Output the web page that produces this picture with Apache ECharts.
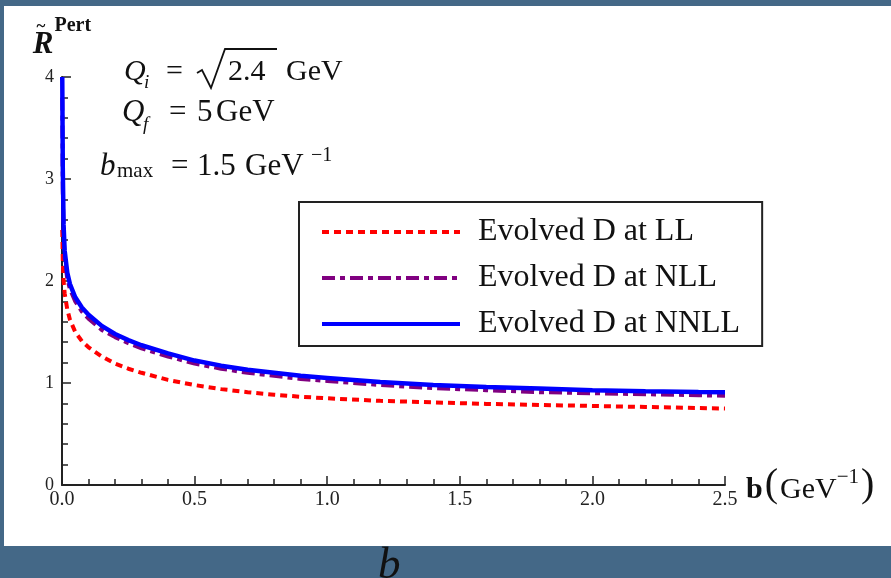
<!DOCTYPE html>
<html>
<head>
<meta charset="utf-8">
<script src="https://cdn.jsdelivr.net/npm/echarts@6/dist/echarts.min.js"></script>
<style>
  html, body { margin: 0; padding: 0; background: #446887; }
  #chart { width: 891px; height: 578px; }
</style>
</head>
<body>
<div id="chart"></div>
<script>
// Impact parameter b in GeV^-1
const bValues = [0.001, 0.003, 0.006, 0.01, 0.02, 0.03, 0.05, 0.075, 0.1, 0.15, 0.2, 0.25, 0.3,
  0.4, 0.5, 0.6, 0.7, 0.8, 0.9, 1.0, 1.2, 1.4, 1.6, 1.8, 2.0, 2.2, 2.4, 2.5];

// Perturbative ratio for each order of the evolved D
const evolvedLL = [2.5, 2.2, 2.0, 1.88, 1.72, 1.62, 1.50, 1.41, 1.35, 1.26, 1.19, 1.14, 1.10,
  1.03, 0.98, 0.94, 0.91, 0.885, 0.865, 0.85, 0.825, 0.81, 0.795, 0.785, 0.775, 0.765, 0.755, 0.75];
const evolvedNLL = [3.8, 2.9, 2.45, 2.22, 2.02, 1.92, 1.80, 1.70, 1.63, 1.52, 1.45, 1.39, 1.34,
  1.26, 1.19, 1.14, 1.10, 1.07, 1.04, 1.02, 0.98, 0.95, 0.93, 0.91, 0.90, 0.89, 0.88, 0.875];
const evolvedNNLL = [4.0, 3.1, 2.55, 2.3, 2.08, 1.97, 1.84, 1.74, 1.67, 1.56, 1.48, 1.42, 1.37,
  1.29, 1.22, 1.17, 1.13, 1.10, 1.07, 1.05, 1.01, 0.98, 0.96, 0.945, 0.93, 0.92, 0.912, 0.91];

const seriesNames = ['Evolved D at LL', 'Evolved D at NLL', 'Evolved D at NNLL'];
const xTickLabels = ['0.0', '0.5', '1.0', '1.5', '2.0', '2.5'];
const yTickLabels = ['0', '1', '2', '3', '4'];

const serif = '"Liberation Serif", "Times New Roman", serif';

function pairs(ys) {
  return bValues.map((b, i) => [b, ys[i]]);
}

// Text placed by its alphabetic baseline (Liberation Serif: em middle ~0.3375em above baseline)
function mathText(str, x, baseline, size, fontStyle, fontWeight) {
  return {
    type: 'text',
    x: x,
    y: baseline - 0.3375 * size,
    silent: true,
    style: {
      text: str,
      fill: '#111',
      font: (fontStyle || 'normal') + ' ' + (fontWeight || 'normal') + ' ' + size + 'px ' + serif,
      align: 'left',
      verticalAlign: 'middle',
      textAlign: 'left',
      textVerticalAlign: 'middle'
    }
  };
}

const chart = echarts.init(document.getElementById('chart'), null, { renderer: 'canvas' });

const option = {
  animation: false,
  backgroundColor: 'transparent',
  grid: { left: 62, right: 166, top: 77, bottom: 93, containLabel: false },
  legend: {
    orient: 'vertical',
    left: 299,
    top: 202,
    padding: [14, 22, 6, 21],
    itemWidth: 138,
    itemHeight: 20,
    itemGap: 14,
    selectedMode: false,
    borderColor: '#222',
    borderWidth: 2,
    backgroundColor: '#fff',
    itemStyle: { opacity: 0 },
    lineStyle: { width: 4 },
    textStyle: { fontFamily: serif, fontSize: 32, color: '#111', padding: [0, 0, 0, 13] },
    data: seriesNames
  },
  xAxis: {
    type: 'value',
    min: 0,
    max: 2.5,
    interval: 0.5,
    name: '{b|b}{p|(}{g|GeV}{s|−1}{p|)}',
    nameLocation: 'end',
    nameGap: 21,
    nameTextStyle: {
      rich: {
        b: { fontFamily: serif, fontWeight: 'bold', fontSize: 30, color: '#111', verticalAlign: 'bottom', padding: [0, 2, 0, 0] },
        p: { fontFamily: serif, fontSize: 40, color: '#111', verticalAlign: 'bottom', padding: [0, 2, 0, 0] },
        g: { fontFamily: serif, fontSize: 30, color: '#111', verticalAlign: 'bottom' },
        s: { fontFamily: serif, fontSize: 21, color: '#111', verticalAlign: 'top', padding: [2, 2, 0, 0] }
      }
    },
    axisLine: { show: true, onZero: false, lineStyle: { color: '#222', width: 2 } },
    axisTick: { show: true, inside: true, length: 9, lineStyle: { color: '#222', width: 1.5 } },
    minorTick: { show: true, splitNumber: 5, length: 6, lineStyle: { color: '#222', width: 1.5 } },
    splitLine: { show: false },
    axisLabel: {
      margin: 5,
      fontFamily: serif,
      fontSize: 20,
      color: '#222',
      showMinLabel: true,
      showMaxLabel: true,
      formatter: (v) => xTickLabels[Math.round(v / 0.5)]
    }
  },
  yAxis: {
    type: 'value',
    min: 0,
    max: 4,
    interval: 1,
    name: '{r|R}{p|Pert}',
    nameLocation: 'end',
    nameGap: 17,
    nameTextStyle: {
      rich: {
        r: { fontFamily: serif, fontWeight: 'bold', fontStyle: 'italic', fontSize: 31, color: '#111', verticalAlign: 'bottom' },
        p: { fontFamily: serif, fontWeight: 'bold', fontSize: 20, color: '#111', verticalAlign: 'top', padding: [0, 0, 24, 1] }
      }
    },
    axisLine: { show: true, onZero: false, lineStyle: { color: '#222', width: 2 } },
    axisTick: { show: true, inside: true, length: 9, lineStyle: { color: '#222', width: 1.5 } },
    minorTick: { show: true, splitNumber: 5, length: 6, lineStyle: { color: '#222', width: 1.5 } },
    splitLine: { show: false },
    axisLabel: {
      margin: 8,
      fontFamily: serif,
      fontSize: 18,
      color: '#222',
      showMinLabel: true,
      formatter: (v) => yTickLabels[Math.round(v)]
    }
  },
  series: [
    {
      name: seriesNames[0],
      type: 'line',
      data: pairs(evolvedLL),
      symbol: 'none',
      showSymbol: false,
      smooth: false,
      itemStyle: { color: '#ff0000' },
      lineStyle: { color: '#ff0000', width: 4, type: [7, 5] }
    },
    {
      name: seriesNames[1],
      type: 'line',
      data: pairs(evolvedNLL),
      symbol: 'none',
      showSymbol: false,
      smooth: false,
      itemStyle: { color: '#800080' },
      lineStyle: { color: '#800080', width: 4, type: [13, 5, 5, 5] }
    },
    {
      name: seriesNames[2],
      type: 'line',
      data: pairs(evolvedNNLL),
      symbol: 'none',
      showSymbol: false,
      smooth: false,
      itemStyle: { color: '#0000ff' },
      lineStyle: { color: '#0000ff', width: 4.5 }
    }
  ],
  graphic: [
    // white slide panel behind the plot
    { type: 'rect', z: -10, silent: true, shape: { x: 4, y: 6, width: 887, height: 540 }, style: { fill: '#ffffff' } },
    // tilde over R
    { type: 'text', x: 41, y: 27, silent: true,
      style: { text: '~', fill: '#111', font: 'bold 17px ' + serif, align: 'center', verticalAlign: 'middle', textAlign: 'center', textVerticalAlign: 'middle' } },
    // Q_i = sqrt(2.4) GeV
    mathText('Q', 124, 82, 30, 'italic'),
    mathText('i', 144, 89, 19, 'italic'),
    mathText('=', 166, 82, 30),
    { type: 'polyline', silent: true,
      shape: { points: [[197, 73], [202, 70], [211, 88], [225, 49], [277, 49]] },
      style: { stroke: '#111', lineWidth: 1.8, fill: null, lineJoin: 'miter' } },
    mathText('2.4', 228, 82, 30),
    mathText('GeV', 286, 82, 30),
    // Q_f = 5 GeV
    mathText('Q', 122, 123, 31, 'italic'),
    mathText('f', 143, 131, 19, 'italic'),
    mathText('=', 169, 123, 31),
    mathText('5', 197, 123, 31),
    mathText('GeV', 216, 123, 31),
    // b_max = 1.5 GeV^-1
    mathText('b', 100, 177, 31, 'italic'),
    mathText('max', 117, 179, 21),
    mathText('=', 171, 177, 31),
    mathText('1.5', 197, 177, 31),
    mathText('GeV', 245, 177, 31),
    mathText('−1', 311, 162, 20),
    // caption letter below the panel
    mathText('b', 378, 581, 45, 'italic')
  ]
};

chart.setOption(option);
</script>
</body>
</html>
